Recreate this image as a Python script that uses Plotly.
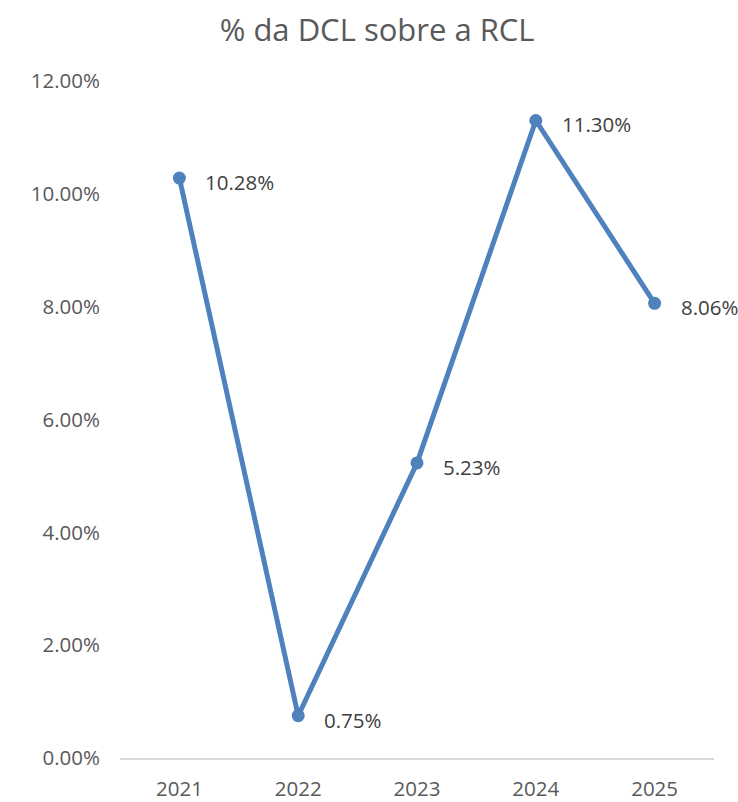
import plotly.graph_objects as go

years = ["2021", "2022", "2023", "2024", "2025"]
values = [0.1028, 0.0075, 0.0523, 0.1130, 0.0806]
labels = ["10.28%", "0.75%", "5.23%", "11.30%", "8.06%"]
y_ticks = [0, 0.02, 0.04, 0.06, 0.08, 0.10, 0.12]

positions = list(range(len(years)))

line_color = "#4f81bd"
font_family = "Open Sans, Noto Sans, sans-serif"

fig = go.Figure()
fig.add_trace(go.Scatter(
    x=positions, y=values, mode="lines+markers",
    line=dict(color=line_color, width=5),
    marker=dict(color=line_color, size=13),
    hoverinfo="skip", showlegend=False, cliponaxis=False,
))

for x, y, t in zip(positions, values, labels):
    fig.add_annotation(x=x, y=y, text=t, showarrow=False, xanchor="left",
                       yanchor="middle", xshift=24, yshift=-4,
                       font=dict(family=font_family, size=20.5, color="#404040"))

fig.update_layout(
    width=738, height=802,
    margin=dict(l=120, r=24, t=81, b=44, autoexpand=False),
    paper_bgcolor="white", plot_bgcolor="white",
    title=dict(text="% da DCL sobre a RCL", x=0.511, xanchor="center",
               y=0.963, yanchor="middle",
               font=dict(family=font_family, size=31, color="#595959")),
    font=dict(family=font_family, size=20.5, color="#595959"),
)
fig.update_xaxes(range=[-0.5, len(years) - 0.5], tickvals=positions, ticktext=years,
                 showgrid=False, showline=True, automargin=False,
                 linecolor="#d9d9d9", linewidth=1.5, ticks="",
                 ticklabelstandoff=12, zeroline=False,
                 tickfont=dict(size=20.5, color="#595959"))
fig.update_yaxes(range=[0, 0.12], tickvals=y_ticks, tickformat=".2%",
                 showgrid=False, showline=False, zeroline=False, ticks="",
                 ticklabelstandoff=19, automargin=False,
                 tickfont=dict(size=20.5, color="#595959"))

fig.write_html("out.html",
               config={"displayModeBar": False},
               post_script="document.body.style.margin='0';document.body.style.overflow='hidden';")
